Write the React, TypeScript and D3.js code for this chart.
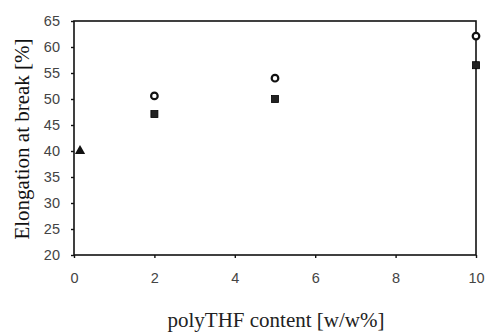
import { useEffect, useRef } from 'react'
import * as d3 from 'd3'

const W = 488, H = 332
const M = { t: 21, r: 12, b: 77, l: 74 }

const X_TICKS = [0, 2, 4, 6, 8, 10]
const Y_TICKS = [20, 25, 30, 35, 40, 45, 50, 55, 60, 65]

// open circles
const circleX = [2, 5, 10]
const circleY = [50.6, 54, 62.1]
// filled squares
const squareX = [2, 5, 10]
const squareY = [47.1, 50, 56.5]
// filled triangle
const triX = [0.15]
const triY = [40]

export default function App() {
  const ref = useRef<SVGSVGElement>(null)

  useEffect(() => {
    const svg = d3.select(ref.current)
    svg.selectAll('*').remove()
    const iw = W - M.l - M.r, ih = H - M.t - M.b
    const x = d3.scaleLinear().domain([0, 10]).range([0, iw])
    const y = d3.scaleLinear().domain([20, 65]).range([ih, 0])
    const g = svg.append('g').attr('transform', `translate(${M.l},${M.t})`)

    g.append('rect').attr('width', iw).attr('height', ih)
      .attr('fill', 'none').attr('stroke', '#111').attr('stroke-width', 1.6)

    const xa = g.append('g').attr('transform', `translate(0,${ih})`)
      .call(d3.axisBottom(x).tickValues(X_TICKS).tickSize(3).tickSizeOuter(0).tickPadding(15))
    const ya = g.append('g')
      .call(d3.axisLeft(y).tickValues(Y_TICKS).tickSize(3).tickSizeOuter(0).tickPadding(11))
    ;[xa, ya].forEach(a => {
      a.select('.domain').remove()
      a.selectAll('.tick line').attr('stroke', '#111').attr('stroke-width', 1.4)
      a.selectAll('.tick text').attr('fill', '#444').attr('font-size', '14.5px')
        .attr('font-family', '"Liberation Sans", Arial, sans-serif')
    })

    // squares
    g.selectAll('.sq').data(squareX).enter().append('rect')
      .attr('x', (d) => x(d) - 3.5).attr('y', (_, i) => y(squareY[i]) - 3.5)
      .attr('width', 7).attr('height', 7).attr('fill', '#222')
      .attr('stroke', '#000').attr('stroke-width', 0.8)

    // circles
    g.selectAll('.ci').data(circleX).enter().append('circle')
      .attr('cx', (d) => x(d)).attr('cy', (_, i) => y(circleY[i])).attr('r', 3.3)
      .attr('fill', '#fff').attr('stroke', '#111').attr('stroke-width', 2.2)

    // triangle
    const tri = d3.symbol().type(d3.symbolTriangle).size(45)
    g.selectAll('.tr').data(triX).enter().append('path')
      .attr('d', tri)
      .attr('transform', (d, i) => `translate(${x(d)},${y(triY[i])})`)
      .attr('fill', '#111')

    svg.append('text')
      .attr('x', 276).attr('y', 327)
      .attr('text-anchor', 'middle').attr('font-size', '21px')
      .attr('font-family', '"Liberation Serif", "Times New Roman", serif').attr('fill', '#222')
      .text('polyTHF content [w/w%]')

    svg.append('text')
      .attr('transform', `translate(29,${139}) rotate(-90)`)
      .attr('text-anchor', 'middle').attr('font-size', '21px')
      .attr('font-family', '"Liberation Serif", "Times New Roman", serif').attr('fill', '#111')
      .text('Elongation at break [%]')
  }, [])

  return (
    <svg ref={ref} width={W} height={H}
      style={{ position: 'absolute', left: 0, top: 0, background: '#fff' }} />
  )
}
